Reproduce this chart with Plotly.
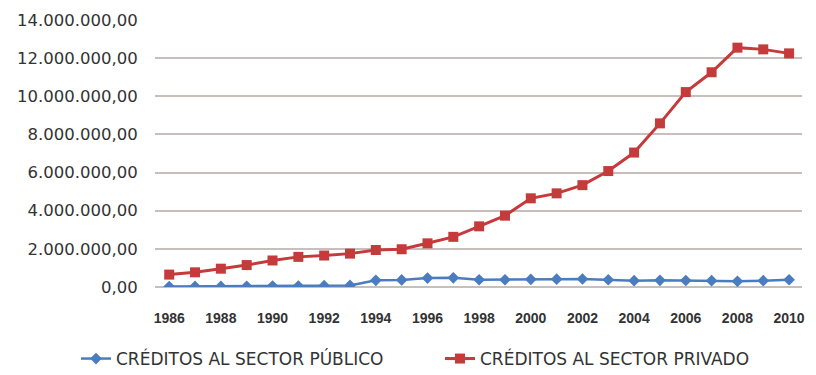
import plotly.graph_objects as go

# Annual credit balances (in currency units)
years = list(range(1986, 2011))

credito_publico = [
    20000, 30000, 30000, 40000, 50000, 50000, 70000, 80000,
    350000, 370000, 470000, 480000, 380000, 380000, 400000, 410000,
    420000, 380000, 330000, 350000, 340000, 330000, 300000, 330000, 380000,
]

credito_privado = [
    650000, 770000, 960000, 1150000, 1390000, 1580000, 1650000, 1750000,
    1940000, 1980000, 2290000, 2630000, 3180000, 3740000, 4650000, 4910000,
    5340000, 6080000, 7050000, 8580000, 10220000, 11260000, 12550000, 12460000, 12250000,
]

x_tick_years = list(range(1986, 2011, 2))
x_tick_text = [str(y) for y in x_tick_years]
y_tick_values = list(range(0, 14000001, 2000000))

BLUE = "#4a7cc0"
RED = "#c53a3b"
TEXT = "#333333"
GRID = "#c6bfbb"

fig = go.Figure()

fig.add_trace(go.Scatter(
    x=years, y=credito_publico,
    mode="lines+markers",
    name="CRÉDITOS AL SECTOR PÚBLICO",
    line=dict(color=BLUE, width=2.5),
    marker=dict(symbol="diamond", size=9, color=BLUE),
    legend="legend",
))

fig.add_trace(go.Scatter(
    x=years, y=credito_privado,
    mode="lines+markers",
    name="CRÉDITOS AL SECTOR PRIVADO",
    line=dict(color=RED, width=3),
    marker=dict(symbol="square", size=10, color=RED),
    legend="legend2",
))

legend_font = dict(family="DejaVu Sans", size=17, color=TEXT)
legend_y = 1 - 359 / 375

fig.update_layout(
    width=816, height=375,
    margin=dict(l=155, r=11, t=17, b=88),
    paper_bgcolor="white",
    plot_bgcolor="white",
    separators=",.",
    showlegend=True,
    legend=dict(
        orientation="h",
        xref="container", yref="container",
        x=76 / 816, y=legend_y,
        xanchor="left", yanchor="middle",
        font=legend_font,
        bgcolor="rgba(0,0,0,0)",
    ),
    legend2=dict(
        orientation="h",
        xref="container", yref="container",
        x=440 / 816, y=legend_y,
        xanchor="left", yanchor="middle",
        font=legend_font,
        bgcolor="rgba(0,0,0,0)",
    ),
    xaxis=dict(
        range=[1985.45, 2010.5],
        tickmode="array",
        tickvals=x_tick_years,
        ticktext=x_tick_text,
        showgrid=False,
        zeroline=False,
        showline=False,
        ticks="outside", ticklen=18, tickcolor="rgba(0,0,0,0)",
        tickfont=dict(family="Liberation Sans", size=14, color=TEXT, weight="bold"),
    ),
    yaxis=dict(
        range=[0, 14000000],
        tickmode="array",
        tickvals=y_tick_values,
        tickformat=",.2f",
        showgrid=True, gridcolor=GRID, gridwidth=1.5,
        zeroline=True, zerolinecolor=GRID, zerolinewidth=1.5,
        showline=False,
        ticks="outside", ticklen=13, tickcolor="rgba(0,0,0,0)",
        tickfont=dict(family="DejaVu Sans", size=16.5, color=TEXT),
    ),
)

fig.write_html("out.html")
